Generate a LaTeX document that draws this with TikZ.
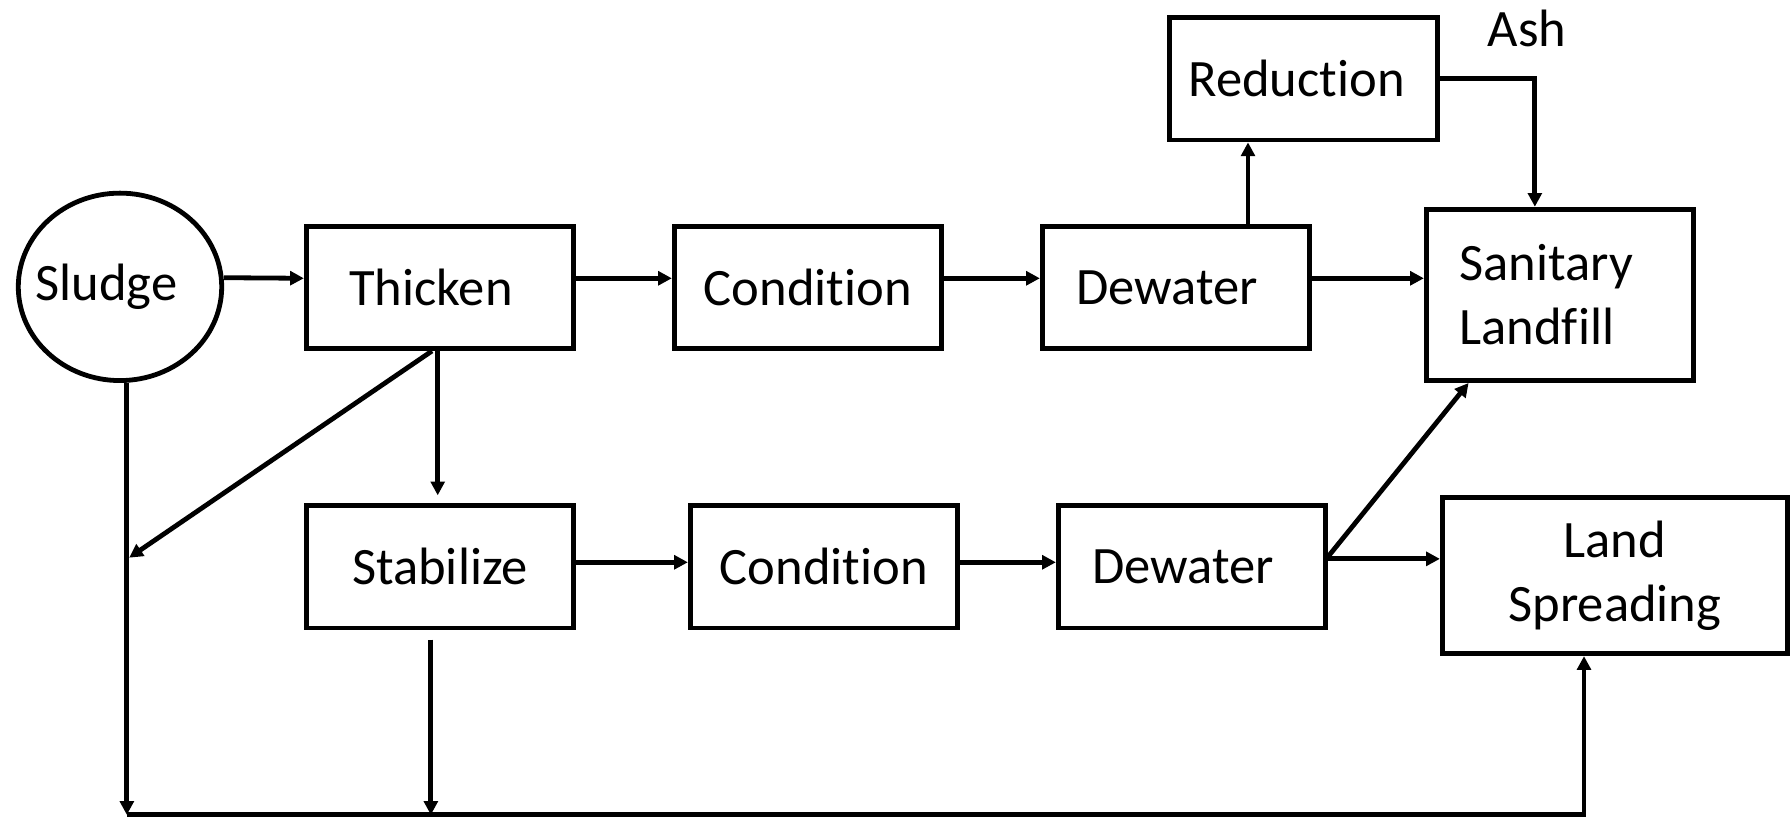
\documentclass[tikz,border=0pt]{standalone}
\usepackage{fontspec}
\setmainfont{Carlito}[Ligatures=NoCommon]
\usepackage{tikz}
\usetikzlibrary{arrows.meta,shapes.geometric}
\tikzset{
    proc-box/.style = {draw=black, fill=white, line width=2.1pt, rectangle, minimum width=117pt, minimum height=53.5pt, inner sep=2pt, font=\fontsize{23}{28}\selectfont},
    src-ellipse/.style = {draw=black, line width=2.1pt, ellipse, minimum width=89pt, minimum height=82pt, inner sep=0pt, font=\fontsize{23}{28}\selectfont},
    flow-arrow/.style = {line width=2.1pt, -{Triangle[length=6pt,width=6pt]}},
}

\begin{document}
\begin{tikzpicture}[x=0.5pt,y=-0.5pt]
\useasboundingbox (0,0) rectangle (1568,715);

\node [src-ellipse] (sludge) at (105,251) {\makebox[0pt]{Sludge\hspace*{12pt}}};
\node [proc-box] (thicken) at (385,251.5) {Thicken\hspace*{8pt}};
\node [proc-box] (cond-a) at (707,251.5) {Condition};
\node [proc-box] (dew-a) at (1029,251.5) {Dewater\hspace*{8pt}};
\node [proc-box] (reduc) at (1140.5,69) {Reduction\hspace*{6pt}};
\node [proc-box, minimum height=75pt, align=left] (landfill) at (1365,258) {Sanitary\hspace*{12pt}\\Landfill};
\node [font=\fontsize{23}{28}\selectfont] (ash) at (1336,25) {Ash};

\node [proc-box] (stab) at (385,496) {Stabilize};
\node [proc-box] (cond-b) at (721,496) {Condition};
\node [proc-box] (dew-b) at (1043,496) {Dewater\hspace*{8pt}};
\node [proc-box, minimum width=151pt, minimum height=68.5pt, align=center] (landspr) at (1413,503.5) {Land\\Spreading};

\coordinate (sdown) at ([xshift=3pt]sludge.south);
\coordinate (bl) at (sdown |- 0,713);

\draw [flow-arrow] ([yshift=4pt]sludge.east) -- ([yshift=4pt]thicken.west);
\draw [flow-arrow] ([yshift=4pt]thicken.east) -- ([yshift=4pt]cond-a.west);
\draw [flow-arrow] ([yshift=4pt]cond-a.east) -- ([yshift=4pt]dew-a.west);
\draw [flow-arrow] ([yshift=4pt]dew-a.east) -- ([yshift=4pt]dew-a.east -| landfill.west);
\draw [flow-arrow] ([xshift=31.5pt]dew-a.north) -- ([xshift=31.5pt]dew-a.north |- reduc.south);
\draw [flow-arrow] (reduc.east) -| ([xshift=-11pt]landfill.north);

\draw [flow-arrow] ([xshift=-1pt]thicken.south) -- ([xshift=-1pt,yshift=3.5pt]thicken.south |- stab.north);
\draw [flow-arrow] ([xshift=-3.5pt]thicken.south) -- ([xshift=1pt]sdown |- 0,488);
\draw [flow-arrow] (sdown) -- (bl);
\draw [flow-arrow] ([xshift=-4pt,yshift=-4pt]stab.south) -- ([xshift=-4pt]stab.south |- bl);
\draw [flow-arrow] (bl) -| ([xshift=-13.5pt]landspr.south);

\draw [flow-arrow] ([yshift=2pt]stab.east) -- ([yshift=2pt]cond-b.west);
\draw [flow-arrow] ([yshift=2pt]cond-b.east) -- ([yshift=2pt]dew-b.west);
\draw [flow-arrow] ([yshift=3.5pt]dew-b.east) -- ([yshift=3.5pt]dew-b.east -| landspr.west);
\draw [flow-arrow] ([yshift=4.5pt]dew-b.east) -- ([xshift=-40pt]landfill.south);
\end{tikzpicture}
\end{document}
